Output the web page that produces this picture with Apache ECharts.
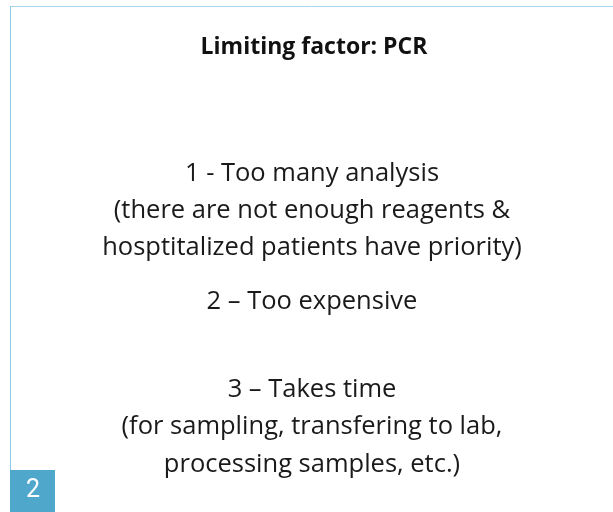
<!DOCTYPE html>
<html>
<head>
<meta charset="utf-8">
<script src="https://cdn.jsdelivr.net/npm/echarts@6/dist/echarts.min.js"></script>
<style>
  html, body { margin: 0; padding: 0; background: #fff; }
  #main { width: 613px; height: 512px; }
</style>
</head>
<body>
<div id="main"></div>
<script>
const titleText = 'Limiting factor: PCR';
const bodyLines = [
  '1 - Too many analysis',
  '(there are not enough reagents &',
  'hosptitalized patients have priority)',
  '2 \u2013 Too expensive',
  '3 \u2013 Takes time',
  '(for sampling, transfering to lab,',
  'processing samples, etc.)',
];
const lineY = [174, 211, 248, 302, 390, 427, 465];
const figureNumber = '2';

const chart = echarts.init(document.getElementById('main'));

const textFont = '"Open Sans", sans-serif';
const elements = [
  { type: 'rect', shape: { x: 0, y: 0, width: 613, height: 512 }, style: { fill: '#ffffff' } },
  { type: 'line', shape: { x1: 10, y1: 6.5, x2: 613, y2: 6.5 }, style: { stroke: '#a6d5ea', lineWidth: 1 } },
  { type: 'line', shape: { x1: 10.5, y1: 6, x2: 10.5, y2: 470 }, style: { stroke: '#8ccbe4', lineWidth: 1 } },
  {
    type: 'text', x: 314, y: 47,
    style: { text: titleText, font: 'bold 23px ' + textFont, fill: '#111', align: 'center', verticalAlign: 'middle' },
  },
];
bodyLines.forEach((t, i) => {
  elements.push({
    type: 'text', x: 312, y: lineY[i],
    style: { text: t, font: '25.5px ' + textFont, fill: '#1a1a1a', align: 'center', verticalAlign: 'middle' },
  });
});
elements.push(
  { type: 'rect', shape: { x: 10, y: 470, width: 45, height: 42 }, style: { fill: '#4fa8cc' } },
  {
    type: 'text', x: 33, y: 491,
    style: { text: figureNumber, font: '25px Roboto, sans-serif', fill: '#fff', align: 'center', verticalAlign: 'middle' },
  },
);

chart.setOption({
  animation: false,
  graphic: { elements },
});
</script>
</body>
</html>
